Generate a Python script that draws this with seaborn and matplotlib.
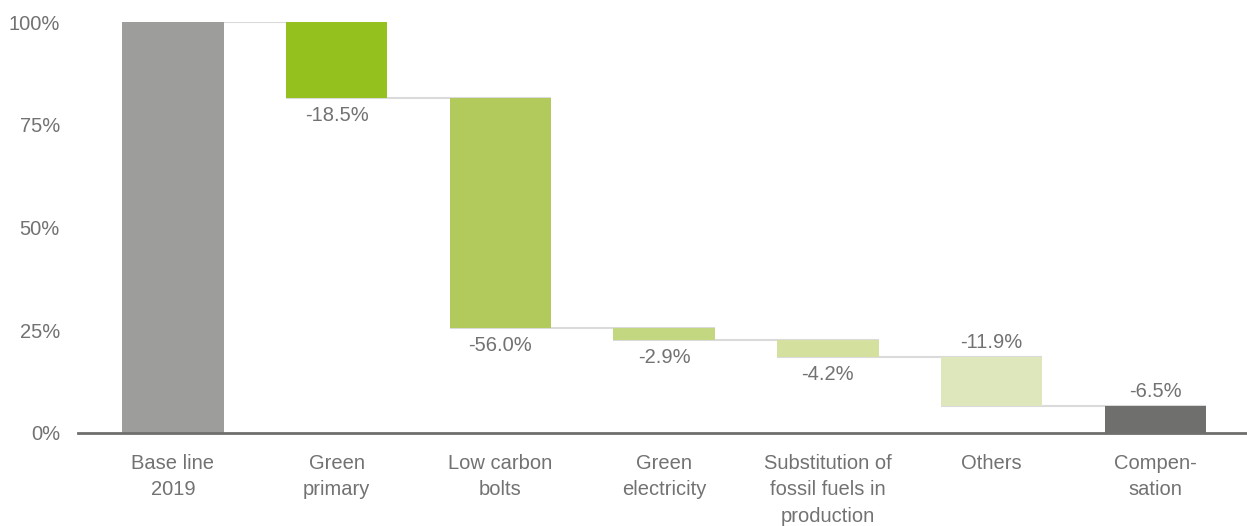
"""
Waterfall chart: CO2 reduction levers vs. 2019 baseline
"""
import numpy as np
import matplotlib
matplotlib.use("Agg")
import matplotlib.pyplot as plt
import seaborn as sns

categories = ["Base line\n2019", "Green\nprimary", "Low carbon\nbolts", "Green\nelectricity",
              "Substitution of\nfossil fuels in\nproduction", "Others", "Compen-\nsation"]
baseline = 100.0
reductions = [18.5, 56.0, 2.9, 4.2, 11.9, 6.5]
value_labels = ["-18.5%", "-56.0%", "-2.9%", "-4.2%", "-11.9%", "-6.5%"]
label_side = ["below", "below", "below", "below", "above", "above"]
bar_colors = ["#9d9d9c", "#95c11f", "#b2c95b", "#c3d680", "#d3e09e", "#dde7bb", "#6f6f6e"]
yticks = [0, 25, 50, 75, 100]
ytick_labels = ["0%", "25%", "50%", "75%", "100%"]

text_color = "#727272"
fs = 14.5

sns.set_style("white")
plt.rcParams["font.family"] = ["Liberation Sans", "DejaVu Sans"]

# running level after each step
levels = baseline - np.cumsum(reductions)
heights = [baseline] + reductions
bottoms = np.concatenate([[0.0], levels])

fig = plt.figure(figsize=(12.47, 5.26), dpi=100)
ax = fig.add_axes([0.0625, 0.177, 0.9375, 0.781])

width = 0.62
sns.barplot(x=categories, y=heights, bottom=bottoms, color="#999999",
            width=width, ax=ax, zorder=3, linewidth=0)
for patch, c in zip(ax.patches, bar_colors):
    patch.set_facecolor(c)

# connectors: top of each bar level to the next bar
tops = np.concatenate([[baseline], levels])
for i in range(len(categories) - 1):
    ax.hlines(tops[i], i - width / 2, i + 1 + width / 2, color="#dadada",
              linewidth=1.5, zorder=2)

# value labels
for i, (lab, side) in enumerate(zip(value_labels, label_side)):
    x = i + 1
    if side == "below":
        y = bottoms[x]
        ax.annotate(lab, (x, y), xytext=(0, -17), textcoords="offset pixels",
                    ha="center", va="center", fontsize=fs, color=text_color)
    else:
        y = bottoms[x] + heights[x]
        ax.annotate(lab, (x, y), xytext=(0, 15), textcoords="offset pixels",
                    ha="center", va="center", fontsize=fs, color=text_color)

ax.set_xlim(-0.58, 6.56)
ax.set_ylim(0, 100)
ax.set_yticks(yticks)
ax.set_yticklabels(ytick_labels)
ax.tick_params(axis="y", length=0, pad=13, labelsize=fs, labelcolor=text_color)
ax.tick_params(axis="x", length=0, pad=15, labelsize=fs, labelcolor=text_color)
for lbl in ax.get_xticklabels():
    lbl.set_linespacing(1.5)

for s in ["top", "right", "left"]:
    ax.spines[s].set_visible(False)
ax.spines["bottom"].set_color("#6f6f6e")
ax.spines["bottom"].set_linewidth(2)
ax.spines["bottom"].set_zorder(4)

fig.savefig("out.png", dpi=100)
